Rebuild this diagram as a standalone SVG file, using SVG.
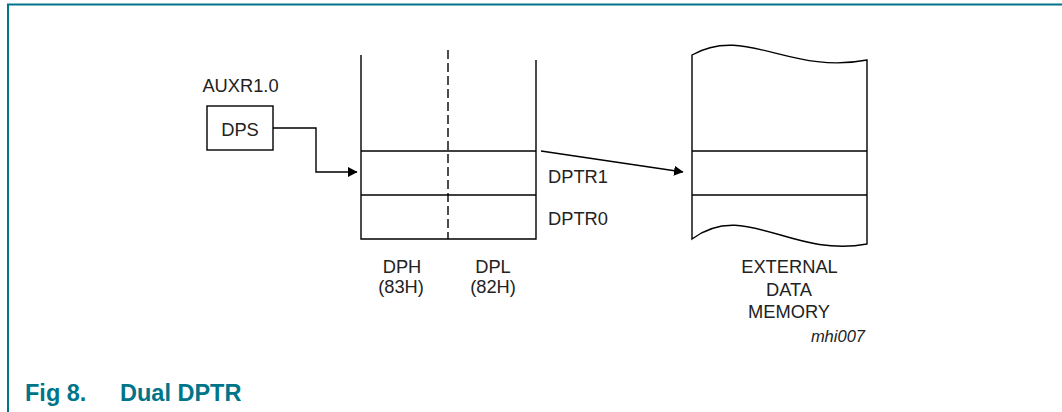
<svg xmlns="http://www.w3.org/2000/svg" width="1062" height="412" viewBox="0 0 1062 412">
  <style>
    .ln { fill: none; stroke: #000; stroke-width: 1.4; }
    .lbl { font-family: "Liberation Sans", Arial, sans-serif; font-size: 18.3px; fill: #222; }
    .c { text-anchor: middle; }
    .cap { font-family: "Liberation Sans", Arial, sans-serif; font-size: 23.5px; font-weight: bold; fill: #00758a; }
  </style>
  <defs>
    <marker id="arr" markerWidth="10" markerHeight="10" refX="9" refY="5" orient="auto" markerUnits="userSpaceOnUse">
      <path d="M0,0 L9.5,5 L0,10 Z" fill="#000"/>
    </marker>
  </defs>
  <rect width="1062" height="412" fill="#fff"/>
  <g id="frame">
    <path d="M8,412 V4.5 H1062" fill="none" stroke="#00758a" stroke-width="2"/>
  </g>
  <g id="dps">
    <text class="lbl c" x="240.5" y="92">AUXR1.0</text>
    <rect x="207" y="106" width="66" height="44" class="ln"/>
    <text class="lbl c" x="240" y="135.5">DPS</text>
  </g>
  <g id="dptr">
    <path class="ln" d="M361,55 V239 H536 V60"/>
    <line class="ln" x1="361" y1="151" x2="536" y2="151"/>
    <line class="ln" x1="361" y1="195" x2="536" y2="195"/>
    <line class="ln" x1="448" y1="50" x2="448" y2="239" stroke-dasharray="9 4"/>
    <text class="lbl" x="548" y="183">DPTR1</text>
    <text class="lbl" x="548" y="225">DPTR0</text>
    <text class="lbl c" x="402" y="272.5">DPH</text>
    <text class="lbl c" x="401" y="292.5">(83H)</text>
    <text class="lbl c" x="493" y="272.5">DPL</text>
    <text class="lbl c" x="493" y="292.5">(82H)</text>
  </g>
  <g id="memory">
    <path class="ln" d="M692,239 V55 C745,25 790,75 867,60 V244 C790,258 745,200 692,239 Z"/>
    <line class="ln" x1="692" y1="151" x2="867" y2="151"/>
    <line class="ln" x1="692" y1="195" x2="867" y2="195"/>
    <text class="lbl c" x="789.5" y="273">EXTERNAL</text>
    <text class="lbl c" x="789" y="295.5">DATA</text>
    <text class="lbl c" x="789" y="318">MEMORY</text>
  </g>
  <g id="connectors">
    <polyline class="ln" points="273,128 316,128 316,172 357,172" marker-end="url(#arr)"/>
    <line class="ln" x1="541" y1="151" x2="683" y2="172" marker-end="url(#arr)"/>
  </g>
  <text x="865" y="342" text-anchor="end" font-family="Liberation Sans, Arial, sans-serif" font-style="italic" font-size="16.5" fill="#222">mhi007</text>
  <g id="caption">
    <text class="cap" x="25" y="401">Fig 8.</text>
    <text class="cap" x="120" y="401">Dual DPTR</text>
  </g>
</svg>
